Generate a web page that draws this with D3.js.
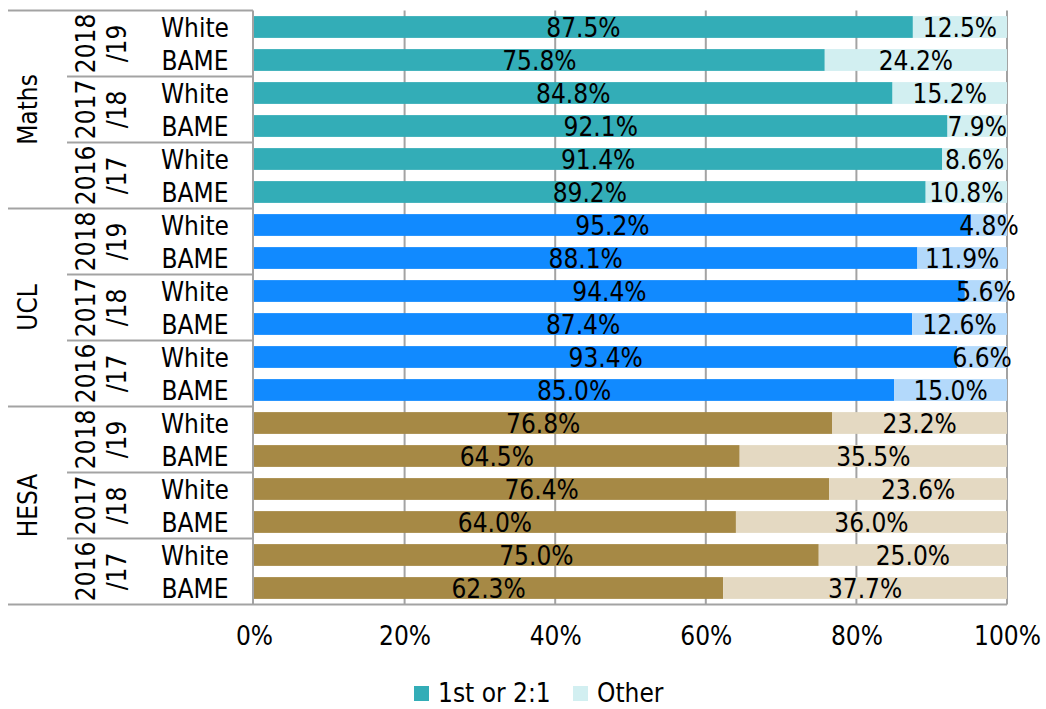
<!DOCTYPE html>
<html>
<head>
<meta charset="utf-8">
<script src="https://cdn.jsdelivr.net/npm/d3@7"></script>
<style>
  body { margin: 0; background: #fff; }
  svg text { font-family: "DejaVu Sans Condensed", "DejaVu Sans", sans-serif; font-stretch: condensed; fill: #000; }
</style>
</head>
<body>
<div id="chart"></div>
<script>
// Degree outcomes by ethnicity (stacked horizontal bars)

// Data
var groups = ["Maths", "UCL", "HESA"];
var years = ["2018/19", "2017/18", "2016/17"];
var ethnicities = ["White", "BAME"];

// rows in order: 18/19 White, 18/19 BAME, 17/18 White, 17/18 BAME, 16/17 White, 16/17 BAME
var mathsFirst = [87.5, 75.8, 84.8, 92.1, 91.4, 89.2];
var mathsOther = [12.5, 24.2, 15.2, 7.9, 8.6, 10.8];
var uclFirst = [95.2, 88.1, 94.4, 87.4, 93.4, 85.0];
var uclOther = [4.8, 11.9, 5.6, 12.6, 6.6, 15.0];
var hesaFirst = [76.8, 64.5, 76.4, 64.0, 75.0, 62.3];
var hesaOther = [23.2, 35.5, 23.6, 36.0, 25.0, 37.7];

var seriesNames = ["1st or 2:1", "Other"];
var xTicks = [0, 20, 40, 60, 80, 100];

// colours per group: [1st or 2:1, Other]
var groupColors = {
    "Maths": ["#33adb7", "#d2eff1"],
    "UCL": ["#118aff", "#b3d9fb"],
    "HESA": ["#a68945", "#e4d9c2"]
};

// SVG Dimensions
var svgWidth = 1046;
var svgHeight = 709;

var plotLeft = 254;
var plotRight = 1007;
var plotTop = 10.5;
var plotBottom = 604.5;
var lineColor = "#a3a3a3";
var fontSize = 26;

var svg = d3.select("#chart")
    .append("svg")
    .attr("width", svgWidth)
    .attr("height", svgHeight);

// Build row table
var firstByGroup = { "Maths": mathsFirst, "UCL": uclFirst, "HESA": hesaFirst };
var otherByGroup = { "Maths": mathsOther, "UCL": uclOther, "HESA": hesaOther };
var rows = [];
groups.forEach(function(g) {
    years.forEach(function(y, yi) {
        ethnicities.forEach(function(e, ei) {
            var i = yi * 2 + ei;
            rows.push({
                key: g + "|" + y + "|" + e,
                group: g, year: y, eth: e,
                first: firstByGroup[g][i],
                other: otherByGroup[g][i]
            });
        });
    });
});

// Scales
var xScale = d3.scaleLinear()
    .domain([0, 100])
    .range([plotLeft, plotRight]);

var yScale = d3.scaleBand()
    .domain(rows.map(d => d.key))
    .range([plotTop, plotBottom])
    .paddingInner(0.34)
    .paddingOuter(0.17);

var step = yScale.step();
var textShift = 9.5;

// Gridlines
svg.append("g")
    .selectAll("line")
    .data(xTicks.slice(1))
    .enter()
    .append("line")
    .attr("x1", d => xScale(d))
    .attr("x2", d => xScale(d))
    .attr("y1", plotTop)
    .attr("y2", plotBottom)
    .attr("stroke", lineColor)
    .attr("stroke-width", 2);

// Bars
var barGroup = svg.append("g");
barGroup.selectAll("rect.first")
    .data(rows)
    .enter()
    .append("rect")
    .attr("class", "first")
    .attr("x", xScale(0))
    .attr("y", d => yScale(d.key))
    .attr("width", d => xScale(d.first) - xScale(0))
    .attr("height", yScale.bandwidth())
    .attr("fill", d => groupColors[d.group][0]);

barGroup.selectAll("rect.other")
    .data(rows)
    .enter()
    .append("rect")
    .attr("class", "other")
    .attr("x", d => xScale(d.first))
    .attr("y", d => yScale(d.key))
    .attr("width", d => xScale(d.first + d.other) - xScale(d.first))
    .attr("height", yScale.bandwidth())
    .attr("fill", d => groupColors[d.group][1]);

// Data labels
var fmt = d3.format(".1f");
var labelGroup = svg.append("g").attr("font-size", fontSize);
labelGroup.selectAll("text.first")
    .data(rows)
    .enter()
    .append("text")
    .attr("x", d => (xScale(0) + xScale(d.first)) / 2)
    .attr("y", d => yScale(d.key) + yScale.bandwidth() / 2 + textShift)
    .attr("text-anchor", "middle")
    .text(d => fmt(d.first) + "%");

labelGroup.selectAll("text.other")
    .data(rows)
    .enter()
    .append("text")
    .attr("x", d => (xScale(d.first) + xScale(d.first + d.other)) / 2)
    .attr("y", d => yScale(d.key) + yScale.bandwidth() / 2 + textShift)
    .attr("text-anchor", "middle")
    .text(d => fmt(d.other) + "%");

// Category axis lines (multi-level)
var axisLines = svg.append("g")
    .attr("stroke", lineColor)
    .attr("stroke-width", 2);

axisLines.append("line")
    .attr("x1", plotLeft - 1).attr("x2", plotLeft - 1)
    .attr("y1", plotTop).attr("y2", plotBottom);

axisLines.append("line")
    .attr("x1", 8).attr("x2", plotRight)
    .attr("y1", plotBottom).attr("y2", plotBottom);

groups.forEach(function(g, gi) {
    var firstKey = g + "|" + years[0] + "|" + ethnicities[0];
    var gTop = yScale(firstKey) - (step - yScale.bandwidth()) / 2;
    axisLines.append("line")
        .attr("x1", 8).attr("x2", plotLeft - 1)
        .attr("y1", gTop).attr("y2", gTop);
    years.forEach(function(y, yi) {
        if (yi === 0) return;
        var yTop = yScale(g + "|" + y + "|" + ethnicities[0]) - (step - yScale.bandwidth()) / 2;
        axisLines.append("line")
            .attr("x1", 67).attr("x2", plotLeft - 1)
            .attr("y1", yTop).attr("y2", yTop);
    });
});

// Category labels
var catGroup = svg.append("g").attr("font-size", fontSize);

catGroup.selectAll("text.eth")
    .data(rows)
    .enter()
    .append("text")
    .attr("x", 195)
    .attr("y", d => yScale(d.key) + yScale.bandwidth() / 2 + textShift)
    .attr("text-anchor", "middle")
    .text(d => d.eth);

groups.forEach(function(g) {
    years.forEach(function(y) {
        var yc = yScale(g + "|" + y + "|" + ethnicities[0]) - (step - yScale.bandwidth()) / 2 + step;
        var parts = y.split("/");
        catGroup.append("text")
            .attr("transform", `translate(95, ${yc}) rotate(-90)`)
            .attr("text-anchor", "middle")
            .text(parts[0]);
        catGroup.append("text")
            .attr("transform", `translate(126, ${yc}) rotate(-90)`)
            .attr("text-anchor", "middle")
            .text("/" + parts[1]);
    });
    var gc = yScale(g + "|" + years[0] + "|" + ethnicities[0]) - (step - yScale.bandwidth()) / 2 + step * 3;
    catGroup.append("text")
        .attr("transform", `translate(37, ${gc}) rotate(-90)`)
        .attr("text-anchor", "middle")
        .text(g);
});

// X axis
var xAxis = d3.axisBottom(xScale)
    .tickValues(xTicks)
    .tickSize(0)
    .tickPadding(22)
    .tickFormat(d => d + "%");

var xAxisG = svg.append("g")
    .attr("transform", `translate(0, ${plotBottom})`)
    .call(xAxis);
xAxisG.select(".domain").remove();
xAxisG.selectAll("text")
    .attr("font-size", fontSize)
    .attr("font-family", null)
    .attr("fill", "#000");

// Legend
var legend = svg.append("g").attr("font-size", fontSize);
var legendX = [414, 573];
seriesNames.forEach(function(name, i) {
    legend.append("rect")
        .attr("x", legendX[i])
        .attr("y", 686)
        .attr("width", 15)
        .attr("height", 15)
        .attr("fill", groupColors["Maths"][i]);
    legend.append("text")
        .attr("x", legendX[i] + 24)
        .attr("y", 702)
        .text(name);
});
</script>
</body>
</html>
